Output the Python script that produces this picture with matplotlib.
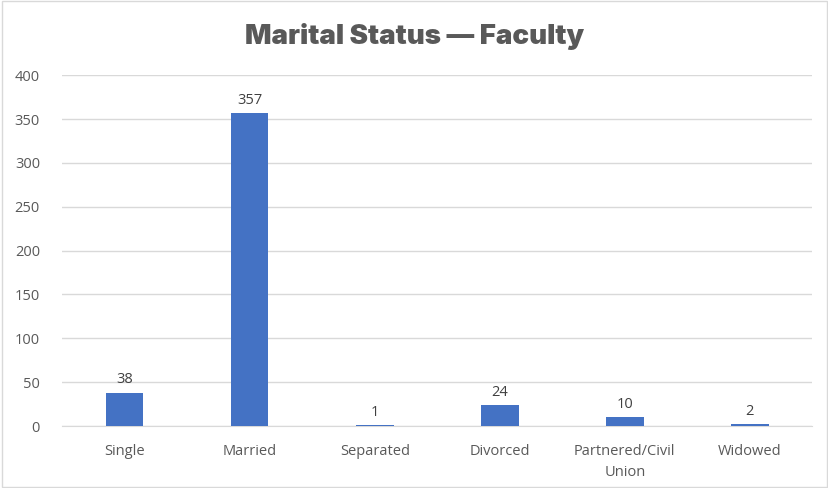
import numpy as np
import matplotlib.pyplot as plt

categories = ["Single", "Married", "Separated", "Divorced", "Partnered/Civil\nUnion", "Widowed"]
counts = [38, 357, 1, 24, 10, 2]
y_ticks = [0, 50, 100, 150, 200, 250, 300, 350, 400]

bar_color = "#4472c4"
text_color = "#595959"
grid_color = "#d9d9d9"

plt.rcParams['font.family'] = ['Open Sans', 'DejaVu Sans']

fig = plt.figure(figsize=(8.29, 4.88), dpi=100)
ax = fig.add_axes([0.075, 0.127, 0.905, 0.719])

x = np.arange(len(categories))
bars = ax.bar(x, counts, width=0.3, color=bar_color, zorder=3)

for xi, v in zip(x, counts):
    ax.text(xi, v + 6, str(v), ha="center", va="bottom", fontsize=10.5, color="#404040")

ax.set_xlim(-0.5, len(categories) - 0.5)
ax.set_ylim(0, 400)
ax.set_yticks(y_ticks)
ax.set_xticks(x)
ax.set_xticklabels(categories, linespacing=1.55)
ax.tick_params(axis="both", length=0, colors=text_color, labelsize=10.5)
ax.tick_params(axis="x", pad=13)
ax.tick_params(axis="y", pad=16)
ax.yaxis.grid(True, color=grid_color, linewidth=1, zorder=0)
for s in ["top", "right", "left"]:
    ax.spines[s].set_visible(False)
ax.spines["bottom"].set_color(grid_color)

fig.text(0.5, 0.925, "Marital Status \u2014 Faculty", ha="center", va="center",
         fontsize=20, fontweight=900, color="#595959", family=["Inter", "DejaVu Sans"])

border = plt.Rectangle((0.002, 0.002), 0.996, 0.996, transform=fig.transFigure,
                       fill=False, edgecolor="#d9d9d9", linewidth=1)
fig.patches.append(border)

fig.savefig("out.png", dpi=100)
